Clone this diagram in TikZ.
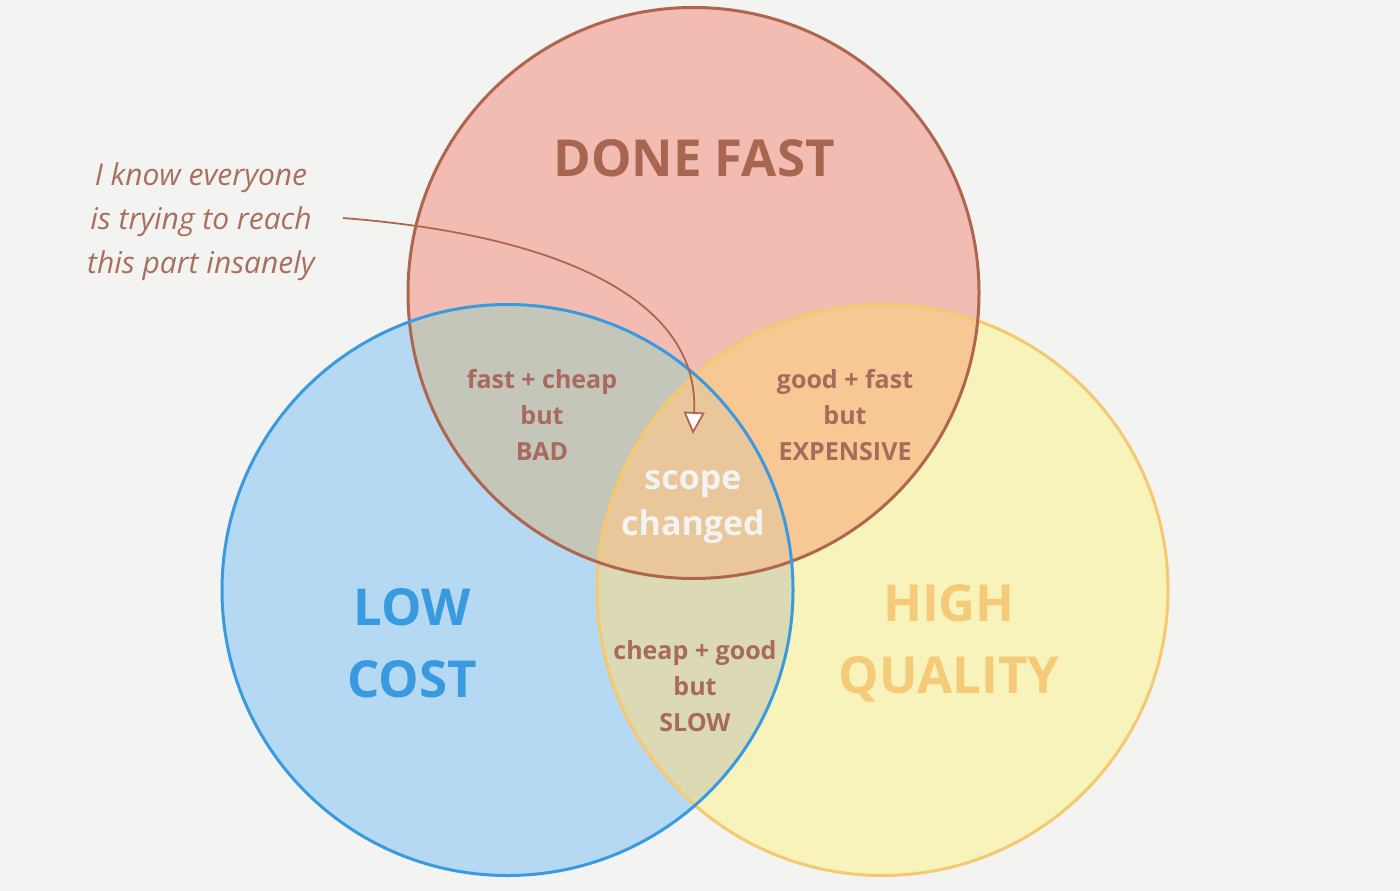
\documentclass[tikz,border=0pt]{standalone}
\usepackage{fontspec}
\setmainfont{Open Sans}
\usetikzlibrary{arrows.meta}
\definecolor{bgc}{HTML}{F3F3F1}
\definecolor{topfill}{HTML}{F2BCB2}
\definecolor{leftfill}{HTML}{B5D9F2}
\definecolor{rightfill}{HTML}{F7F3BB}
\definecolor{tlfill}{HTML}{C3C6B8}
\definecolor{trfill}{HTML}{F7C893}
\definecolor{lrfill}{HTML}{DCDAB4}
\definecolor{cfill}{HTML}{E9C79A}
\definecolor{topedge}{HTML}{B0654E}
\definecolor{leftedge}{HTML}{3A9AE0}
\definecolor{rightedge}{HTML}{F5C96F}
\definecolor{brownt}{HTML}{A8654F}
\definecolor{labelt}{HTML}{A86A5C}
\definecolor{bluet}{HTML}{3A9AE0}
\definecolor{yellowt}{HTML}{F5CB7A}
\definecolor{notet}{HTML}{A9705F}
\tikzset{
  edge/.style={line width=3pt},
  title/.style={font=\bfseries\fontsize{51}{72}\selectfont, align=center},
  region/.style={font=\bfseries\fontsize{25}{36}\selectfont, text=labelt, align=center},
}
\begin{document}
\begin{tikzpicture}[x=1pt,y=-1pt]
\useasboundingbox (0,0) rectangle (1400,891);
\fill[bgc] (0,0) rectangle (1400,891);
\coordinate (T) at (693.5,293);
\coordinate (L) at (507.5,590);
\coordinate (R) at (882.5,590);
\def\rr{285.5}
% base fills
\fill[topfill] (T) circle[radius=\rr];
\fill[leftfill] (L) circle[radius=\rr];
\fill[rightfill] (R) circle[radius=\rr];
% intersections
\begin{scope}
  \clip (T) circle[radius=\rr];
  \fill[tlfill] (L) circle[radius=\rr];
  \fill[trfill] (R) circle[radius=\rr];
\end{scope}
\begin{scope}
  \clip (L) circle[radius=\rr];
  \fill[lrfill] (R) circle[radius=\rr];
\end{scope}
\begin{scope}
  \clip (T) circle[radius=\rr];
  \clip (L) circle[radius=\rr];
  \fill[cfill] (R) circle[radius=\rr];
\end{scope}
% edges
\draw[edge, rightedge] (R) circle[radius=\rr];
\draw[edge, topedge] (T) circle[radius=\rr];
\draw[edge, leftedge] (L) circle[radius=\rr];
% titles
\node[title, text=brownt] (done) at (694,158) {DONE FAST};
\node[title, text=bluet] (low) at (412,643) {LOW\\COST};
\node[title, text=yellowt] (high) at (949,643) {HIGH\\QUALITY};
% region labels
\node[region] (fc) at (542,415) {fast + cheap\\but\\BAD};
\node[region] (gf) at (845,415) {good + fast\\but\\EXPENSIVE};
\node[region] (cg) at (695,686) {cheap + good\\but\\SLOW};
\node[font=\bfseries\fontsize{34}{46}\selectfont, text=bgc, align=center] (scope) at (693,507) {scope\\changed};
% annotation
\node[font=\itshape\fontsize{30}{44}\selectfont, text=notet, align=center] (note) at (201,222) {I know everyone\\is trying to reach\\this part insanely};
\coordinate (start) at (343,218);
\coordinate (tip) at (693,434);
\draw[line width=1.8pt, topedge, -{Triangle[width=21pt,length=22pt,fill=white]}]
  (start) .. controls (560,235) and (700,300) .. (tip);
\end{tikzpicture}
\end{document}
